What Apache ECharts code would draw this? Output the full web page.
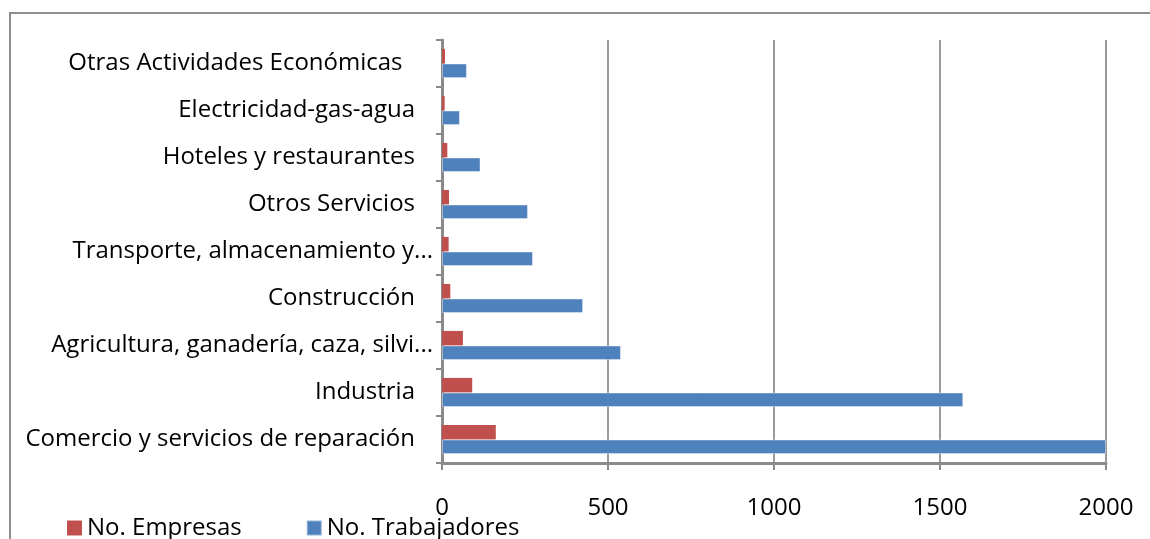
<!DOCTYPE html>
<html>
<head>
<meta charset="utf-8">
<script src="https://cdn.jsdelivr.net/npm/echarts@6/dist/echarts.min.js"></script>
<style>
  html, body { margin: 0; padding: 0; background: #fff; }
  #chart { width: 1150px; height: 539px; }
</style>
</head>
<body>
<div id="chart"></div>
<script>
// Categories listed bottom to top (as drawn on the vertical category axis)
const categories = [
  "Comercio y servicios de reparación",
  "Industria",
  "Agricultura, ganadería, caza, silvi...",
  "Construcción",
  "Transporte, almacenamiento y...",
  "Otros Servicios",
  "Hoteles y restaurantes",
  "Electricidad-gas-agua",
  "Otras Actividades Económicas  "
];
const seriesNames = ["No. Empresas", "No. Trabajadores"];
const empresas = [162, 91, 63, 25, 20, 21, 16, 8, 9];
const trabajadores = [2000, 1570, 539, 425, 274, 259, 116, 54, 75];
const xTicks = [0, 500, 1000, 1500, 2000];

const FONT = "Open Sans";
const truncated = new Set([
  "Agricultura, ganadería, caza, silvi...",
  "Transporte, almacenamiento y..."
]);

const chart = echarts.init(document.getElementById('chart'), null, { renderer: 'canvas' });
chart.setOption({
  animation: false,
  backgroundColor: '#ffffff',
  textStyle: { fontFamily: FONT },
  graphic: [{
    type: 'rect',
    z: -10,
    shape: { x: 10, y: 13, width: 1400, height: 900 },
    style: { fill: 'none', stroke: '#8e8e8e', lineWidth: 2 }
  }],
  legend: {
    data: seriesNames,
    left: 67,
    top: 516,
    padding: 0,
    icon: 'rect',
    itemWidth: 15,
    itemHeight: 15,
    itemGap: 64,
    textStyle: { fontFamily: FONT, fontSize: 24, color: '#000' }
  },
  grid: { left: 442, right: 44, top: 40, bottom: 76, containLabel: false },
  xAxis: {
    type: 'value',
    min: xTicks[0],
    max: xTicks[xTicks.length - 1],
    interval: 500,
    axisLine: { show: true, lineStyle: { color: '#8a8a8a', width: 3 } },
    axisTick: { show: true, length: 7, lineStyle: { color: '#8a8a8a', width: 2 } },
    splitLine: { show: true, lineStyle: { color: '#9a9a9a', width: 2 } },
    axisLabel: { margin: 33, fontFamily: FONT, fontSize: 24, color: '#000',
                 formatter: v => String(v) }
  },
  yAxis: {
    type: 'category',
    data: categories.map(c => truncated.has(c)
      ? { value: c, textStyle: { padding: [0, -18, 0, 0] } }
      : c),
    axisLine: { show: true, lineStyle: { color: '#8a8a8a', width: 3 } },
    axisTick: { show: true, length: 6, lineStyle: { color: '#8a8a8a', width: 2 } },
    splitLine: { show: false },
    axisLabel: { margin: 27, fontFamily: FONT, fontSize: 24, color: '#000' }
  },
  series: [
    {
      name: seriesNames[0],
      type: 'bar',
      data: empresas,
      barGap: '0%',
      barCategoryGap: '38%',
      itemStyle: { color: '#C0504D' }
    },
    {
      name: seriesNames[1],
      type: 'bar',
      data: trabajadores,
      barGap: '0%',
      barCategoryGap: '38%',
      itemStyle: { color: '#4F81BD', borderColor: 'rgba(255,255,255,0.4)', borderWidth: 1 }
    }
  ]
});
</script>
</body>
</html>
